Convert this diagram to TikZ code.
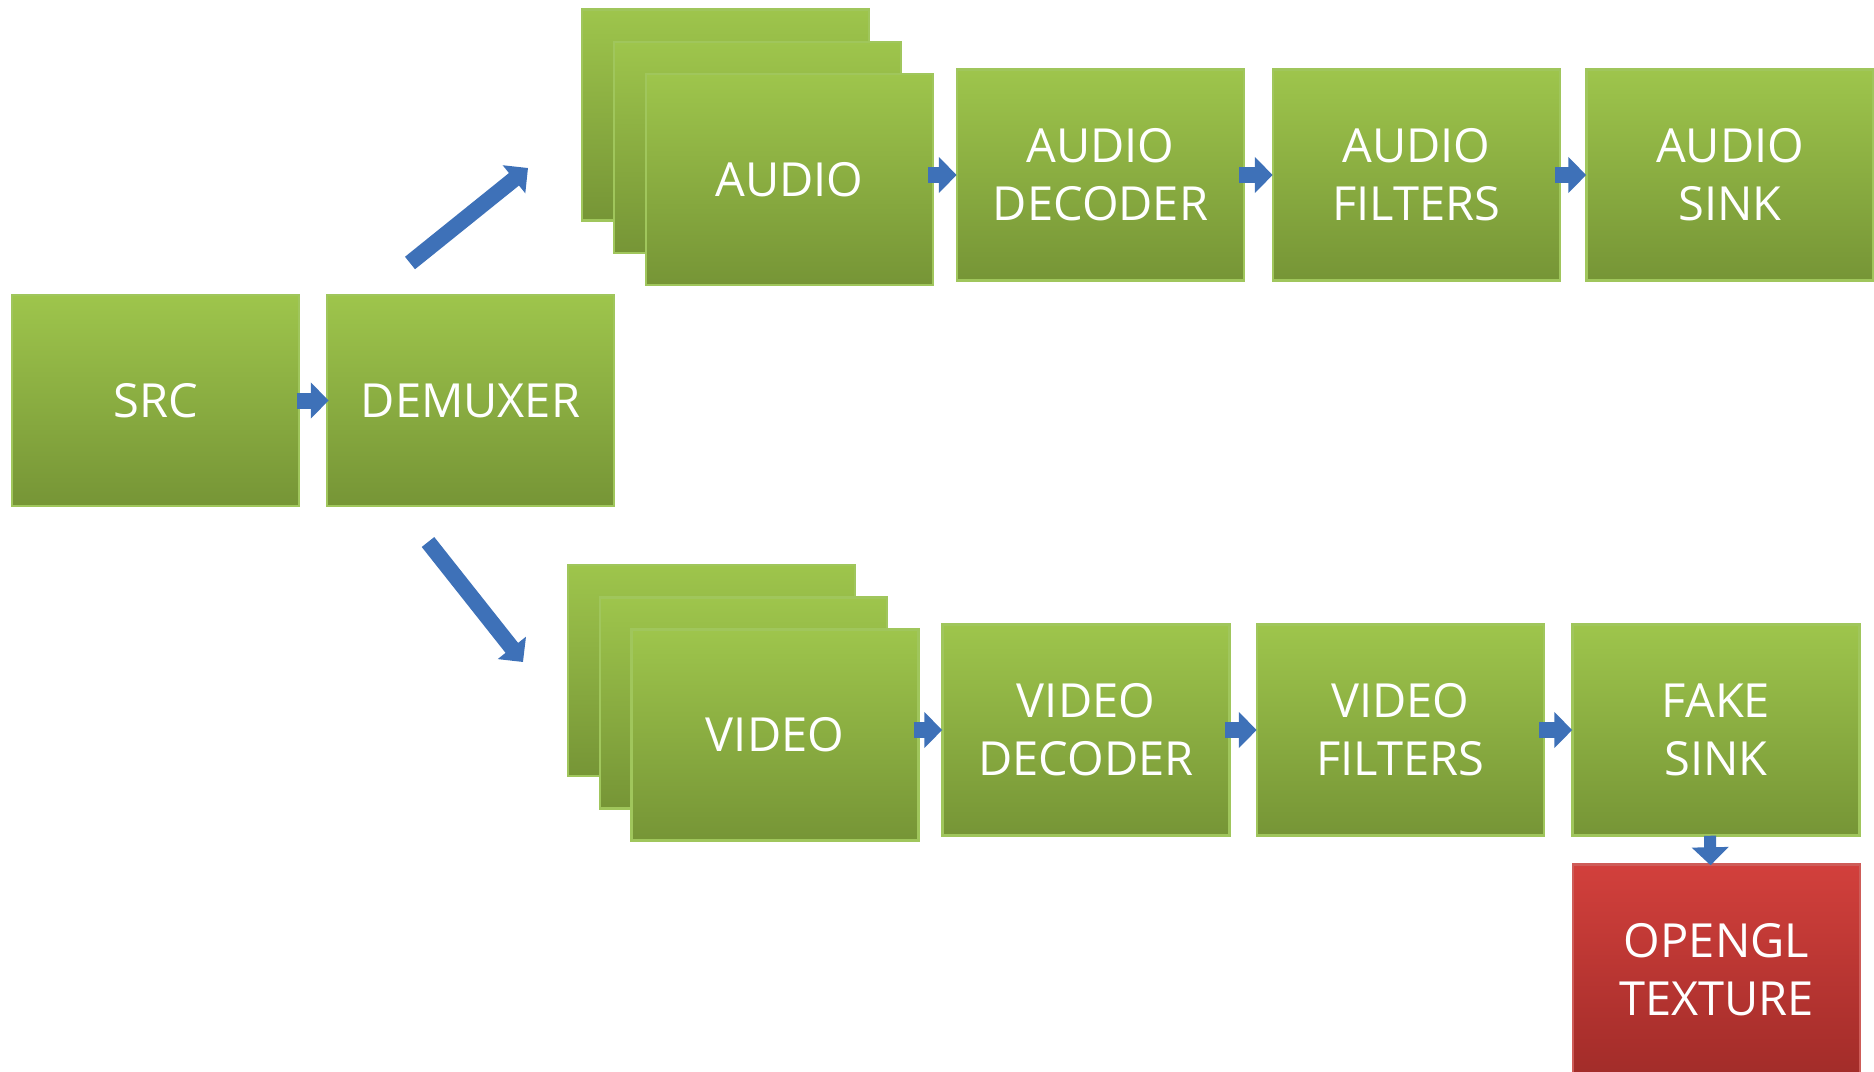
\documentclass[tikz,border=0pt]{standalone}
\usepackage{fontspec}
\setmainfont{Open Sans}
\usetikzlibrary{arrows.meta}
\definecolor{gtop}{RGB}{158,197,76}
\definecolor{gbot}{RGB}{118,149,54}
\definecolor{gbd}{RGB}{160,198,92}
\definecolor{rtop}{RGB}{210,64,60}
\definecolor{rbot}{RGB}{162,44,41}
\definecolor{rbd}{RGB}{206,92,88}
\definecolor{ablue}{RGB}{62,113,184}
\tikzset{
  box/.style={rectangle, minimum width=287pt, minimum height=211pt, inner sep=0pt,
    line width=2.5pt, text=white, align=center,
    font=\fontsize{47}{58}\selectfont},
  gbox/.style={box, top color=gtop, bottom color=gbot, draw=gbd},
  rbox/.style={box, top color=rtop, bottom color=rbot, draw=rbd},
  barrow/.style={draw=ablue, line width=16pt, -{Triangle[width=35pt,length=18pt]}},
  vbarrow/.style={draw=ablue, line width=12pt, -{Triangle[width=36pt,length=18pt]}}
}
\begin{document}
\begin{tikzpicture}[x=1pt,y=-1pt]
\useasboundingbox (0,0) rectangle (1874,1071);
% first row
\node[gbox] (src) at (155.5,400.5) {SRC};
\node[gbox] (demux) at (470.5,400.5) {DEMUXER};
\node[gbox] (aback) at (725.5,115) {};
\node[gbox] (amid) at (757.5,147.5) {};
\node[gbox] (afront) at (789.5,179.5) {AUDIO};
\node[gbox] (adec) at (1100.5,175) {AUDIO\\DECODER};
\node[gbox] (afil) at (1416.5,175) {AUDIO\\FILTERS};
\node[gbox] (asink) at (1730,175) {AUDIO\\SINK};
% video row
\node[gbox] (vback) at (711.5,670.5) {};
\node[gbox] (vmid) at (743.5,703) {};
\node[gbox] (vfront) at (775,735) {VIDEO};
\node[gbox] (vdec) at (1086,730) {VIDEO\\DECODER};
\node[gbox] (vfil) at (1400.5,730) {VIDEO\\FILTERS};
\node[gbox] (fsink) at (1716,730) {FAKE\\SINK};
\node[rbox] (gl) at (1716.5,970) {OPENGL\\TEXTURE};
% free ends of the diagonal arrows
\coordinate (ua1) at (410,263);
\coordinate (ua2) at (528,168);
\coordinate (da1) at (428,542);
\coordinate (da2) at (523,662);
% connectors
\draw[barrow, shorten <=-3pt, shorten >=-3pt] (src.east) -- (demux.west);
\draw[barrow] (ua1) -- (ua2);
\draw[barrow] (da1) -- (da2);
\draw[barrow, shorten <=-6pt, shorten >=-1pt] (afront.east |- adec.west) -- (adec.west);
\draw[barrow, shorten <=-6pt, shorten >=-1pt] (adec.east) -- (afil.west);
\draw[barrow, shorten <=-6pt, shorten >=-1pt] (afil.east) -- (asink.west);
\draw[barrow, shorten <=-6pt, shorten >=-1pt] (vfront.east |- vdec.west) -- (vdec.west);
\draw[barrow, shorten <=-6pt, shorten >=-1pt] (vdec.east) -- (vfil.west);
\draw[barrow, shorten <=-6pt, shorten >=-1pt] (vfil.east) -- (fsink.west);
\draw[vbarrow, shorten <=-1pt, shorten >=-2pt] ([xshift=-6pt]fsink.south) -- ([xshift=-6pt]gl.north);
\end{tikzpicture}
\end{document}
